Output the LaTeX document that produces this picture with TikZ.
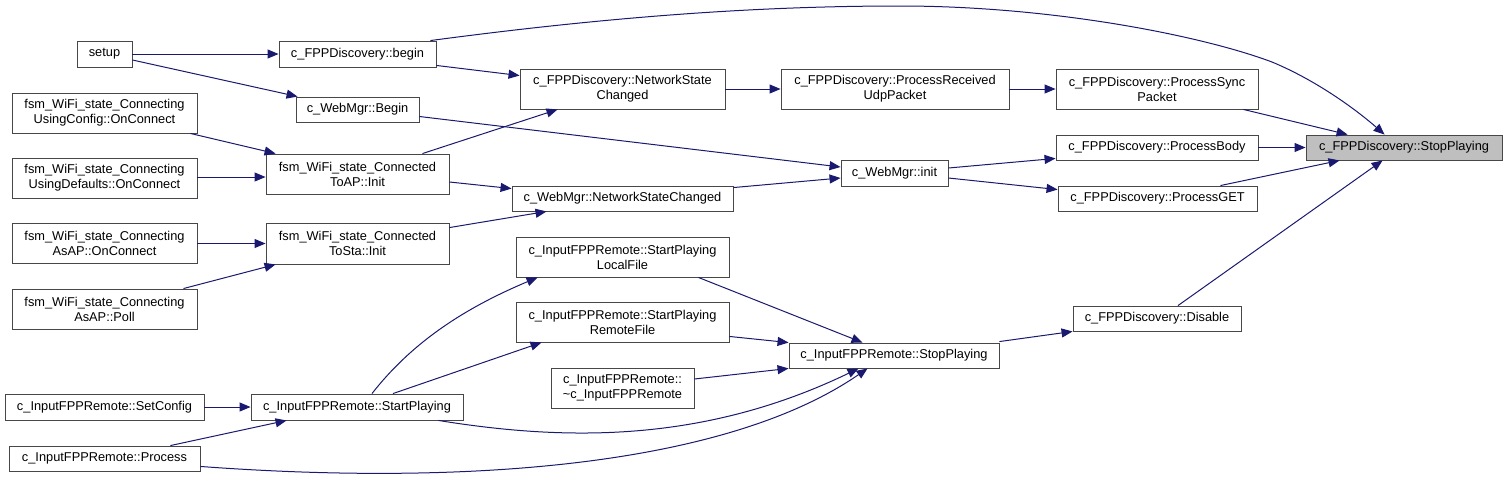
\documentclass[tikz,border=0pt]{standalone}
\usepackage{fontspec}
\setmainfont{Liberation Sans}
\usetikzlibrary{arrows.meta,calc}
\definecolor{edgecol}{RGB}{25,25,112}
\definecolor{rootfill}{RGB}{191,191,191}
\tikzset{
  box/.style={draw=black!72, line width=0.9pt, fill=white, inner sep=0pt, align=center,
              font=\fontsize{12.8}{15}\selectfont},
  call/.style={draw=edgecol, line width=1pt, -{Triangle[length=11pt,width=9pt]}},
}
\begin{document}
\begin{tikzpicture}[x=1pt,y=-1pt]
\useasboundingbox (0,0) rectangle (1507,480);
% column 1
\node[box, minimum width=55pt, minimum height=26pt] (setup) at (104.5,54) {setup};
\node[box, minimum width=185pt, minimum height=40pt] (ucfg) at (104.5,113) {fsm\_WiFi\_state\_Connecting\\UsingConfig::OnConnect};
\node[box, minimum width=185pt, minimum height=40pt] (udef) at (104.5,178) {fsm\_WiFi\_state\_Connecting\\UsingDefaults::OnConnect};
\node[box, minimum width=185pt, minimum height=40pt] (asapconn) at (104.5,243.5) {fsm\_WiFi\_state\_Connecting\\AsAP::OnConnect};
\node[box, minimum width=185pt, minimum height=40pt] (asappoll) at (104.5,309) {fsm\_WiFi\_state\_Connecting\\AsAP::Poll};
\node[box, minimum width=199pt, minimum height=26pt] (setcfg) at (104.5,407) {c\_InputFPPRemote::SetConfig};
\node[box, minimum width=191pt, minimum height=25pt] (process) at (104.5,458.5) {c\_InputFPPRemote::Process};
% column 2
\node[box, minimum width=157pt, minimum height=26pt] (begin) at (357.5,54) {c\_FPPDiscovery::begin};
\node[box, minimum width=123pt, minimum height=25pt] (wbegin) at (357.5,109.5) {c\_WebMgr::Begin};
\node[box, minimum width=183pt, minimum height=40pt] (apinit) at (357.5,174) {fsm\_WiFi\_state\_Connected\\ToAP::Init};
\node[box, minimum width=183pt, minimum height=41pt] (stainit) at (357.5,243.5) {fsm\_WiFi\_state\_Connected\\ToSta::Init};
\node[box, minimum width=212pt, minimum height=26pt] (startp) at (357,407) {c\_InputFPPRemote::StartPlaying};
% column 3
\node[box, minimum width=205pt, minimum height=40pt] (fnsc) at (622.5,89) {c\_FPPDiscovery::NetworkState\\Changed};
\node[box, minimum width=221pt, minimum height=25pt] (wnsc) at (622.5,198.5) {c\_WebMgr::NetworkStateChanged};
\node[box, minimum width=213pt, minimum height=40pt] (spl) at (622.5,257) {c\_InputFPPRemote::StartPlaying\\LocalFile};
\node[box, minimum width=213pt, minimum height=40pt] (spr) at (622.5,322) {c\_InputFPPRemote::StartPlaying\\RemoteFile};
\node[box, minimum width=143pt, minimum height=40pt] (dtor) at (622.5,388) {c\_InputFPPRemote::\\\textasciitilde c\_InputFPPRemote};
% column 4
\node[box, minimum width=228pt, minimum height=40pt] (udp) at (895,89) {c\_FPPDiscovery::ProcessReceived\\UdpPacket};
\node[box, minimum width=107pt, minimum height=26pt] (winit) at (894.5,173) {c\_WebMgr::init};
\node[box, minimum width=210pt, minimum height=25pt] (istop) at (894,355.5) {c\_InputFPPRemote::StopPlaying};
% column 5
\node[box, minimum width=202pt, minimum height=40pt] (sync) at (1157,89) {c\_FPPDiscovery::ProcessSync\\Packet};
\node[box, minimum width=202pt, minimum height=25pt] (body) at (1157,147.5) {c\_FPPDiscovery::ProcessBody};
\node[box, minimum width=199pt, minimum height=25pt] (get) at (1157.5,198.5) {c\_FPPDiscovery::ProcessGET};
\node[box, minimum width=168pt, minimum height=25pt] (disable) at (1157,318.5) {c\_FPPDiscovery::Disable};
% root
\node[box, fill=rootfill, minimum width=196pt, minimum height=25pt] (stop) at (1404,147.5) {c\_FPPDiscovery::StopPlaying};

% edges
\draw[call] (setup.east) -- (begin.west);
\draw[call] ($(setup.east)+(0,6)$) -- ($(wbegin.north west)+(2,0)$);
\draw[call] ($(begin.north east)+(-6,0)$) .. controls (600,18) and (750,6) .. (900,6)
   .. controls (1050,6) and (1200,35) .. (1272,62)
   .. controls (1320,82) and (1360,113) .. ($(stop.north west)+(79,0)$);
\draw[call] ($(begin.south east)+(0,-2)$) -- ($(fnsc.north west)+(0,7)$);
\draw[call] ($(wbegin.east)+(0,7)$) -- ($(winit.west)+(0,-6)$);
\draw[call] ($(ucfg.south east)+(-7,0)$) -- ($(apinit.north west)+(10,0)$);
\draw[call] ($(udef.east)+(0,-1)$) -- ($(apinit.west)+(0,3)$);
\draw[call] ($(apinit.north east)+(-27,0)$) -- ($(fnsc.south west)+(38,0)$);
\draw[call] ($(apinit.east)+(0,8)$) -- ($(wnsc.north west)+(0,3)$);
\draw[call] ($(stainit.north east)+(0,5)$) -- ($(wnsc.south west)+(35,0)$);
\draw[call] (asapconn.east) -- (stainit.west);
\draw[call] ($(asappoll.north east)+(-14,0)$) -- ($(stainit.south west)+(10,0)$);
\draw[call] (fnsc.east) -- (udp.west);
\draw[call] (udp.east) -- (sync.west);
\draw[call] ($(sync.south east)+(-15,0)$) -- ($(stop.north west)+(42,0)$);
\draw[call] (body.east) -- (stop.west);
\draw[call] ($(get.north east)+(-37,0)$) -- ($(stop.south west)+(34,0)$);
\draw[call] ($(disable.north)+(21,0)$) -- ($(stop.south west)+(77,0)$);
\draw[call] ($(wnsc.north east)+(0,2)$) -- ($(winit.west)+(0,5)$);
\draw[call] ($(winit.east)+(0,-5)$) -- ($(body.south west)+(0,-2)$);
\draw[call] ($(winit.east)+(0,5)$) -- ($(get.north west)+(0,4)$);
\draw[call] ($(istop.north east)+(0,-1)$) -- (disable.south west);
\draw[call] ($(spl.south east)+(-31,0)$) -- ($(istop.north west)+(74,0)$);
\draw[call] ($(spr.south east)+(0,-6)$) -- (istop.north west);
\draw[call] ($(dtor.east)+(0,-9)$) -- (istop.south west);
\draw[call] ($(startp.north)+(15,0)$) .. controls (410,345) and (460,310) .. ($(spl.south west)+(22,0)$);
\draw[call] ($(startp.north)+(36,0)$) -- ($(spr.south west)+(26,0)$);
\draw[call] ($(startp.south east)+(-25,0)$) .. controls (560,440) and (700,445) .. ($(istop.south west)+(70,0)$);
\draw[call] (setcfg.east) -- (startp.west);
\draw[call] ($(process.north east)+(-30,0)$) -- ($(startp.south west)+(36,0)$);
\draw[call] ($(process.south east)+(0,-5)$) .. controls (450,485) and (720,470) .. ($(istop.south west)+(79,0)$);
\end{tikzpicture}
\end{document}
